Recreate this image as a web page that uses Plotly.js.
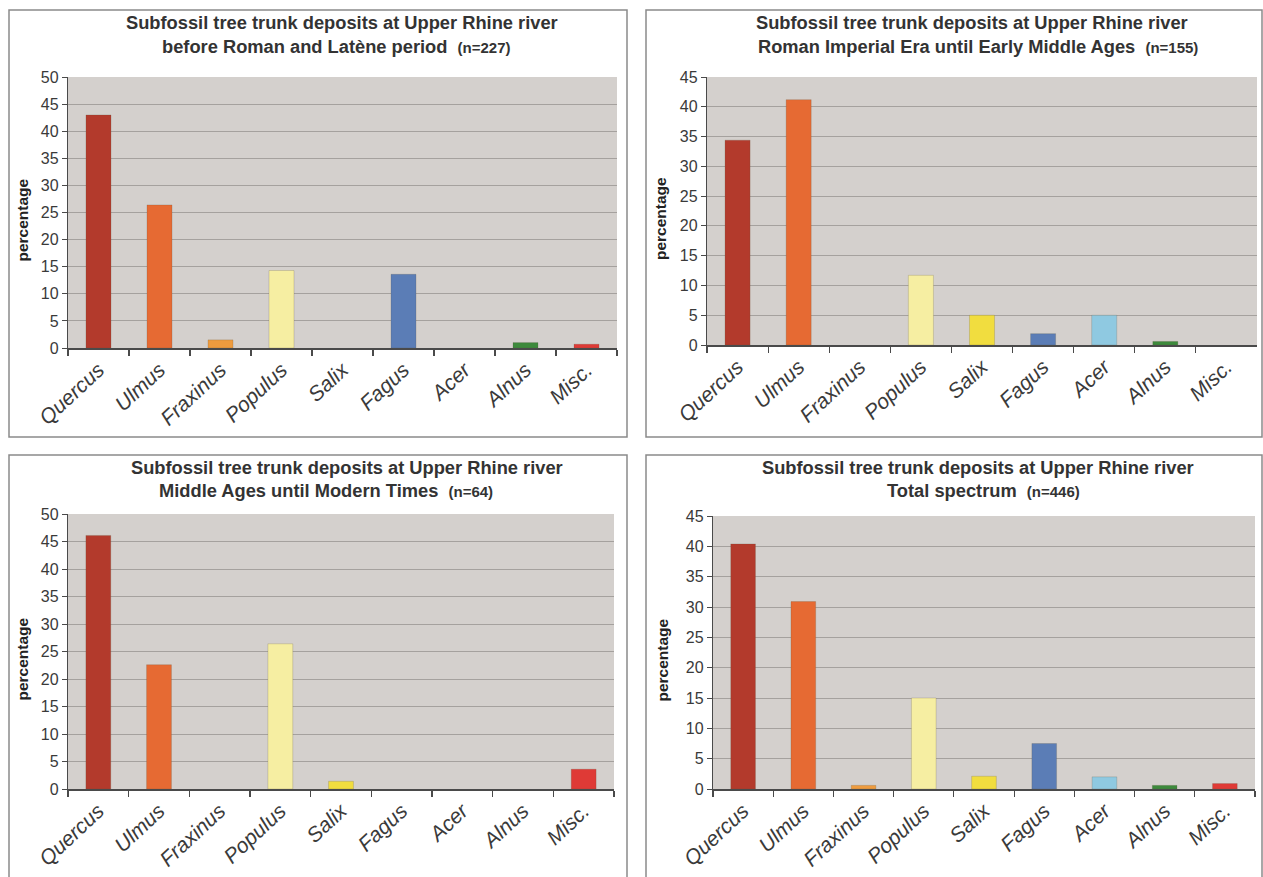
<!DOCTYPE html>
<html>
<head>
<meta charset="utf-8">
<script src="https://cdn.plot.ly/plotly-3.0.1.min.js"></script>
<style>html,body{margin:0;padding:0;background:#fff;}#chart{width:1263px;height:877px;}</style>
</head>
<body>
<div id="chart"></div>
<script>
// ---- data ----
const categories = ['Quercus','Ulmus','Fraxinus','Populus','Salix','Fagus','Acer','Alnus','Misc.'];
const barColors = ['#b33a2c','#e66a33','#ee9b3e','#f6eea2','#f1dd3f','#5b7db6','#8fc9e1','#3d8a3c','#df3a36'];
const beforeRoman = [43.0, 26.4, 1.5, 14.3, 0, 13.6, 0, 1.0, 0.7];
const romanImperial = [34.4, 41.2, 0, 11.7, 5.0, 1.9, 5.0, 0.6, 0];
const middleAges = [46.1, 22.6, 0, 26.4, 1.4, 0, 0, 0, 3.6];
const totalSpectrum = [40.4, 30.9, 0.6, 15.0, 2.1, 7.5, 2.0, 0.6, 0.9];
const titleLine1 = 'Subfossil tree trunk deposits at Upper Rhine river';
const titleLine2 = ['before Roman and Latène period', 'Roman Imperial Era until Early Middle Ages', 'Middle Ages until Modern Times', 'Total spectrum'];
const sampleSizes = ['n=227', 'n=155', 'n=64', 'n=446'];
const yMax = [50, 45, 50, 45];

const W = 1263, H = 877;
const FONT = 'Liberation Sans, Arial, sans-serif';
const px = v => v / W;
const py = v => 1 - v / H;

// panel geometry in pixels: plot area left, right, top, bottom; frame
const panels = [
  {l:68, r:617, t:77, b:348, fx0:9, fx1:627, fy0:10, fy1:437, t1:23, t2:46, c1:342, c2:336, yl:22},
  {l:707, r:1257, t:77, b:345, fx0:646, fx1:1262, fy0:10, fy1:437, t1:23, t2:46, c1:972, c2:978, yl:660},
  {l:68, r:614, t:514, b:789, fx0:9, fx1:627, fy0:455, fy1:880, t1:467, t2:491, c1:347, c2:326, yl:22},
  {l:713, r:1255, t:516, b:789, fx0:646, fx1:1262, fy0:455, fy1:880, t1:467, t2:491, c1:978, c2:983, yl:662}
];
const series = [beforeRoman, romanImperial, middleAges, totalSpectrum];

const data = [];
const layout = {
  width: W, height: H,
  margin: {l:0, r:0, t:0, b:0},
  paper_bgcolor: '#ffffff',
  plot_bgcolor: '#d4d0cd',
  showlegend: false,
  bargap: 0.59,
  font: {family: FONT, color: '#333'},
  annotations: [],
  shapes: []
};

panels.forEach((p, i) => {
  const s = i === 0 ? '' : String(i + 1);
  data.push({
    type: 'bar',
    x: categories,
    y: series[i],
    xaxis: 'x' + s,
    yaxis: 'y' + s,
    marker: {color: barColors, line: {color: 'rgba(90,80,60,0.35)', width: series[i].map(v => v > 0 ? 0.6 : 0)}},
    hoverinfo: 'x+y'
  });
  layout['xaxis' + s] = {
    domain: [px(p.l), px(p.r)],
    anchor: 'y' + s,
    type: 'category',
    showline: true, linecolor: '#4a4a4a', linewidth: 1.5,
    ticks: 'outside', ticklen: 6, tickcolor: '#4a4a4a', tickwidth: 1.2,
    tickson: 'boundaries',
    tickangle: -43,
    tickfont: {family: FONT, size: 21, style: 'italic', color: '#3a3a3a'},
    showgrid: false, zeroline: false, fixedrange: true
  };
  layout['yaxis' + s] = {
    domain: [py(p.b), py(p.t)],
    anchor: 'x' + s,
    range: [0, yMax[i]],
    dtick: 5,
    showline: true, linecolor: '#4a4a4a', linewidth: 1.2,
    ticks: 'outside', ticklen: 5, tickcolor: '#4a4a4a',
    tickfont: {family: FONT, size: 16, color: '#3a3a3a'},
    showgrid: true, gridcolor: '#a5a19e', gridwidth: 1,
    zeroline: false, fixedrange: true
  };
  layout.shapes.push({
    type: 'rect', xref: 'paper', yref: 'paper',
    x0: px(p.fx0), x1: px(p.fx1), y0: py(p.fy1), y1: py(p.fy0),
    line: {color: '#8a8a8a', width: 1.5}, fillcolor: 'rgba(0,0,0,0)', layer: 'below'
  });
  layout.annotations.push({
    xref: 'paper', yref: 'paper', x: px(p.c1), y: py(p.t1),
    xanchor: 'center', yanchor: 'middle', showarrow: false,
    text: '<b>' + titleLine1 + '</b>',
    font: {family: FONT, size: 18.3, color: '#333'}
  });
  layout.annotations.push({
    xref: 'paper', yref: 'paper', x: px(p.c2), y: py(p.t2),
    xanchor: 'center', yanchor: 'middle', showarrow: false,
    text: '<b>' + titleLine2[i] + '</b>  <b><span style="font-size:15px">(' + sampleSizes[i] + ')</span></b>',
    font: {family: FONT, size: 18.3, color: '#333'}
  });
  layout.annotations.push({
    xref: 'paper', yref: 'paper', x: px(p.yl), y: py((p.t + p.b) / 2 + 8),
    xanchor: 'center', yanchor: 'middle', showarrow: false, textangle: -90,
    text: '<b>percentage</b>',
    font: {family: FONT, size: 15.5, color: '#222'}
  });
});

Plotly.newPlot('chart', data, layout, {displayModeBar: false, staticPlot: true});
</script>
</body>
</html>
